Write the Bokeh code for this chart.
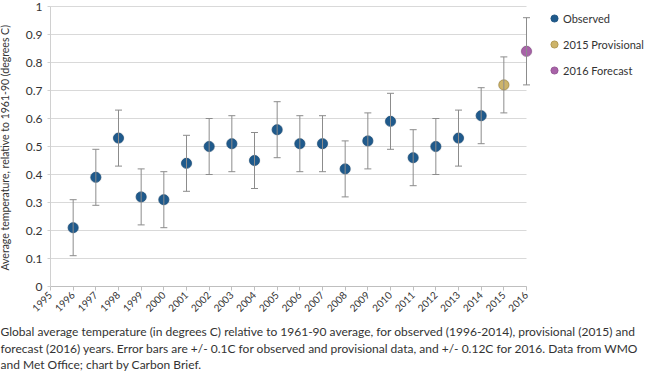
from bokeh.plotting import figure
from bokeh.models import (ColumnDataSource, Range1d, FixedTicker, Whisker, TeeHead,
                          Legend, LegendItem, Label)
from bokeh.embed import file_html
from bokeh.resources import INLINE

# ---------------- data ----------------
obs_years = [1996, 1997, 1998, 1999, 2000, 2001, 2002, 2003, 2004, 2005,
             2006, 2007, 2008, 2009, 2010, 2011, 2012, 2013, 2014]
obs_temps = [0.21, 0.39, 0.53, 0.32, 0.31, 0.44, 0.50, 0.51, 0.45, 0.56,
             0.51, 0.51, 0.42, 0.52, 0.59, 0.46, 0.50, 0.53, 0.61]
obs_err = 0.1

prov_years = [2015]
prov_temps = [0.72]
prov_err = 0.1

fc_years = [2016]
fc_temps = [0.84]
fc_err = 0.12

x_tick_labels = ["1995", "1996", "1997", "1998", "1999", "2000", "2001", "2002",
                 "2003", "2004", "2005", "2006", "2007", "2008", "2009", "2010",
                 "2011", "2012", "2013", "2014", "2015", "2016"]
y_tick_labels = ["0", "0.1", "0.2", "0.3", "0.4", "0.5", "0.6", "0.7", "0.8", "0.9", "1"]

y_label = "Average temperature,  relative to 1961-90 (degrees C)"
caption = [
    "Global average temperature (in degrees C) relative to 1961-90 average, for observed (1996-2014), provisional (2015) and",
    "forecast (2016) years. Error bars are +/- 0.1C for observed and provisional data, and +/- 0.12C for 2016. Data from WMO",
    "and Met Office; chart by Carbon Brief.",
]

FONT = "Lato"
TXT = "#333333"

x_ticks = [int(s) for s in x_tick_labels]
y_ticks = [float(s) for s in y_tick_labels]

# ---------------- layout geometry (pixels) ----------------
W, H = 644, 371
PLOT_LEFT, PLOT_TOP = 50, 6          # where 1995 / 1.0 sit on the canvas
PX_PER_YEAR, PX_PER_UNIT = 22.667, 280.0

x0 = x_ticks[0] - PLOT_LEFT / PX_PER_YEAR
x1 = x_ticks[0] + (W - PLOT_LEFT) / PX_PER_YEAR
y1 = y_ticks[-1] + PLOT_TOP / PX_PER_UNIT
y0 = y_ticks[-1] - (H - PLOT_TOP) / PX_PER_UNIT

# the frame covers the whole canvas; axes are pinned at 1995 / 0
p = figure(width=W, height=H, output_backend="svg", toolbar_location=None,
           x_range=Range1d(x0, x1), y_range=Range1d(y0, y1), min_border=0)
p.outline_line_color = None
p.background_fill_color = "white"
p.border_fill_color = "white"

p.xaxis.fixed_location = y_ticks[0]
p.xaxis.ticker = FixedTicker(ticks=x_ticks)
p.xaxis.bounds = (x_ticks[0], x_ticks[-1])
p.xaxis.major_label_overrides = {t: s for t, s in zip(x_ticks, x_tick_labels)}
p.xaxis.major_label_orientation = 0.785
p.xaxis.major_label_text_font = FONT
p.xaxis.major_label_text_font_size = "10px"
p.xaxis.major_label_text_color = TXT
p.xaxis.axis_line_color = "#bfbfbf"
p.xaxis.major_tick_line_color = "#bfbfbf"
p.xaxis.major_tick_out = 4
p.xaxis.major_tick_in = 0
p.xaxis.minor_tick_line_color = None
p.xaxis.major_label_standoff = 3

p.yaxis.fixed_location = x_ticks[0]
p.yaxis.ticker = FixedTicker(ticks=y_ticks)
p.yaxis.bounds = (y_ticks[0], y_ticks[-1])
p.yaxis.major_label_overrides = {t: s for t, s in zip(y_ticks, y_tick_labels)}
p.yaxis.major_label_text_font = FONT
p.yaxis.major_label_text_font_size = "12px"
p.yaxis.major_label_text_color = TXT
p.yaxis.axis_line_color = "#d0d0d0"
p.yaxis.major_tick_line_color = "#d0d0d0"
p.yaxis.major_tick_out = 3
p.yaxis.major_tick_in = 0
p.yaxis.minor_tick_line_color = None
p.yaxis.major_label_standoff = 5
p.yaxis.axis_label = y_label
p.yaxis.axis_label_text_font = FONT
p.yaxis.axis_label_text_font_size = "10.5px"
p.yaxis.axis_label_text_font_style = "normal"
p.yaxis.axis_label_text_color = TXT
p.yaxis.axis_label_standoff = 12

p.xgrid.grid_line_color = None
p.ygrid.grid_line_color = None
# horizontal gridlines from 1995 to 2016
p.segment(x0=[x_ticks[0]] * len(y_ticks), x1=[x_ticks[-1]] * len(y_ticks),
          y0=y_ticks, y1=y_ticks, line_color="#d9d9d9", line_width=1)

# ---------------- series ----------------
def add_series(years, temps, err, color, edge):
    src = ColumnDataSource(dict(
        x=years, y=temps,
        lo=[t - err for t in temps], hi=[t + err for t in temps]))
    w = Whisker(base="x", lower="lo", upper="hi", source=src, dimension="height",
                line_color="#8c8c8c", line_width=1, level="glyph",
                upper_head=TeeHead(size=7, line_color="#8c8c8c", line_width=1),
                lower_head=TeeHead(size=7, line_color="#8c8c8c", line_width=1))
    p.add_layout(w)
    p.scatter("x", "y", source=src, size=12, fill_color="#9a9a9a",
              fill_alpha=0.25, line_color=None)
    r = p.scatter("x", "y", source=src, size=10, fill_color=color,
                  line_color=edge, line_width=0.8)
    return r

r_obs = add_series(obs_years, obs_temps, obs_err, "#1f5a8c", "#1a4f7c")
r_prov = add_series(prov_years, prov_temps, prov_err, "#cdb46a", "#a88f45")
r_fc = add_series(fc_years, fc_temps, fc_err, "#a862a8", "#8e4f8e")

legend = Legend(items=[LegendItem(label="Observed", renderers=[r_obs]),
                       LegendItem(label="2015 Provisional", renderers=[r_prov]),
                       LegendItem(label="2016 Forecast", renderers=[r_fc])],
                location=(545, 292), orientation="vertical",
                border_line_color=None, background_fill_alpha=0,
                padding=0, margin=0, spacing=8,
                glyph_width=18, glyph_height=18, label_height=18,
                label_standoff=0, label_text_font=FONT,
                label_text_font_size="11px", label_text_color=TXT)
p.add_layout(legend)

# ---------------- caption ----------------
for line, yy in zip(caption, [40, 23.5, 7.5]):
    p.add_layout(Label(x=0, y=yy, x_units="screen", y_units="screen", text=line,
                       text_font=FONT, text_font_size="12px",
                       text_color=TXT, text_baseline="middle", text_align="left"))

open("out.html", "w").write(file_html(p, INLINE))
